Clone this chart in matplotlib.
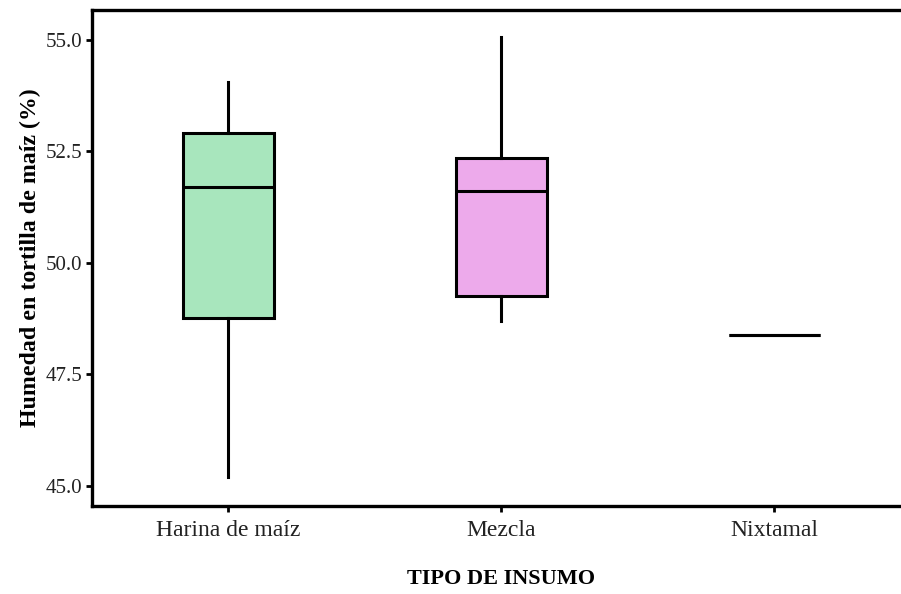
import matplotlib
matplotlib.use("Agg")
import matplotlib.pyplot as plt

categories = ["Harina de maíz", "Mezcla", "Nixtamal"]
whisker_low = [45.19, 48.70, 48.39]
q1 = [48.76, 49.26, 48.39]
median = [51.71, 51.62, 48.39]
q3 = [52.91, 52.36, 48.39]
whisker_high = [54.06, 55.07, 48.39]
fill_colors = ["#a8e6bd", "#edaaeb", "#ffffff"]
y_ticks = [45.0, 47.5, 50.0, 52.5, 55.0]

plt.rcParams["font.family"] = ["Liberation Serif", "DejaVu Serif"]

fig = plt.figure(figsize=(9.01, 5.94), dpi=100)
ax = fig.add_axes([92 / 901, 1 - 506 / 594, 819 / 901, 496 / 594])

stats = []
for i, name in enumerate(categories):
    stats.append(dict(label=name, whislo=whisker_low[i], q1=q1[i], med=median[i],
                      q3=q3[i], whishi=whisker_high[i], fliers=[]))

lw = 2.2
bp = ax.bxp(stats, positions=range(len(categories)), widths=0.335,
            patch_artist=True, showcaps=False, showfliers=False,
            boxprops=dict(linewidth=lw, edgecolor="black"),
            whiskerprops=dict(linewidth=lw, color="black"),
            medianprops=dict(linewidth=lw, color="black"))
for patch, c in zip(bp["boxes"], fill_colors):
    patch.set_facecolor(c)

ax.set_xlim(-0.5, 2.5)
ax.set_ylim(44.55, 55.67)
ax.set_yticks(y_ticks)
ax.set_yticklabels([f"{v:.1f}" for v in y_ticks])
ax.set_xticks(range(len(categories)))
ax.set_xticklabels(categories)

for side in ["left", "bottom", "top"]:
    ax.spines[side].set_linewidth(2.4)
ax.spines["right"].set_visible(False)

ax.tick_params(axis="both", length=4, width=2, color="black")
ax.tick_params(axis="y", labelsize=15, pad=3, labelcolor="#222222")
ax.tick_params(axis="x", labelsize=17, pad=6, labelcolor="#222222")

ax.set_ylabel("Humedad en tortilla de maíz (%)", fontsize=17.2, fontweight="bold", labelpad=3)
ax.set_xlabel("TIPO DE INSUMO", fontsize=16, fontweight="bold", labelpad=20)

fig.savefig("out.png", dpi=100)
